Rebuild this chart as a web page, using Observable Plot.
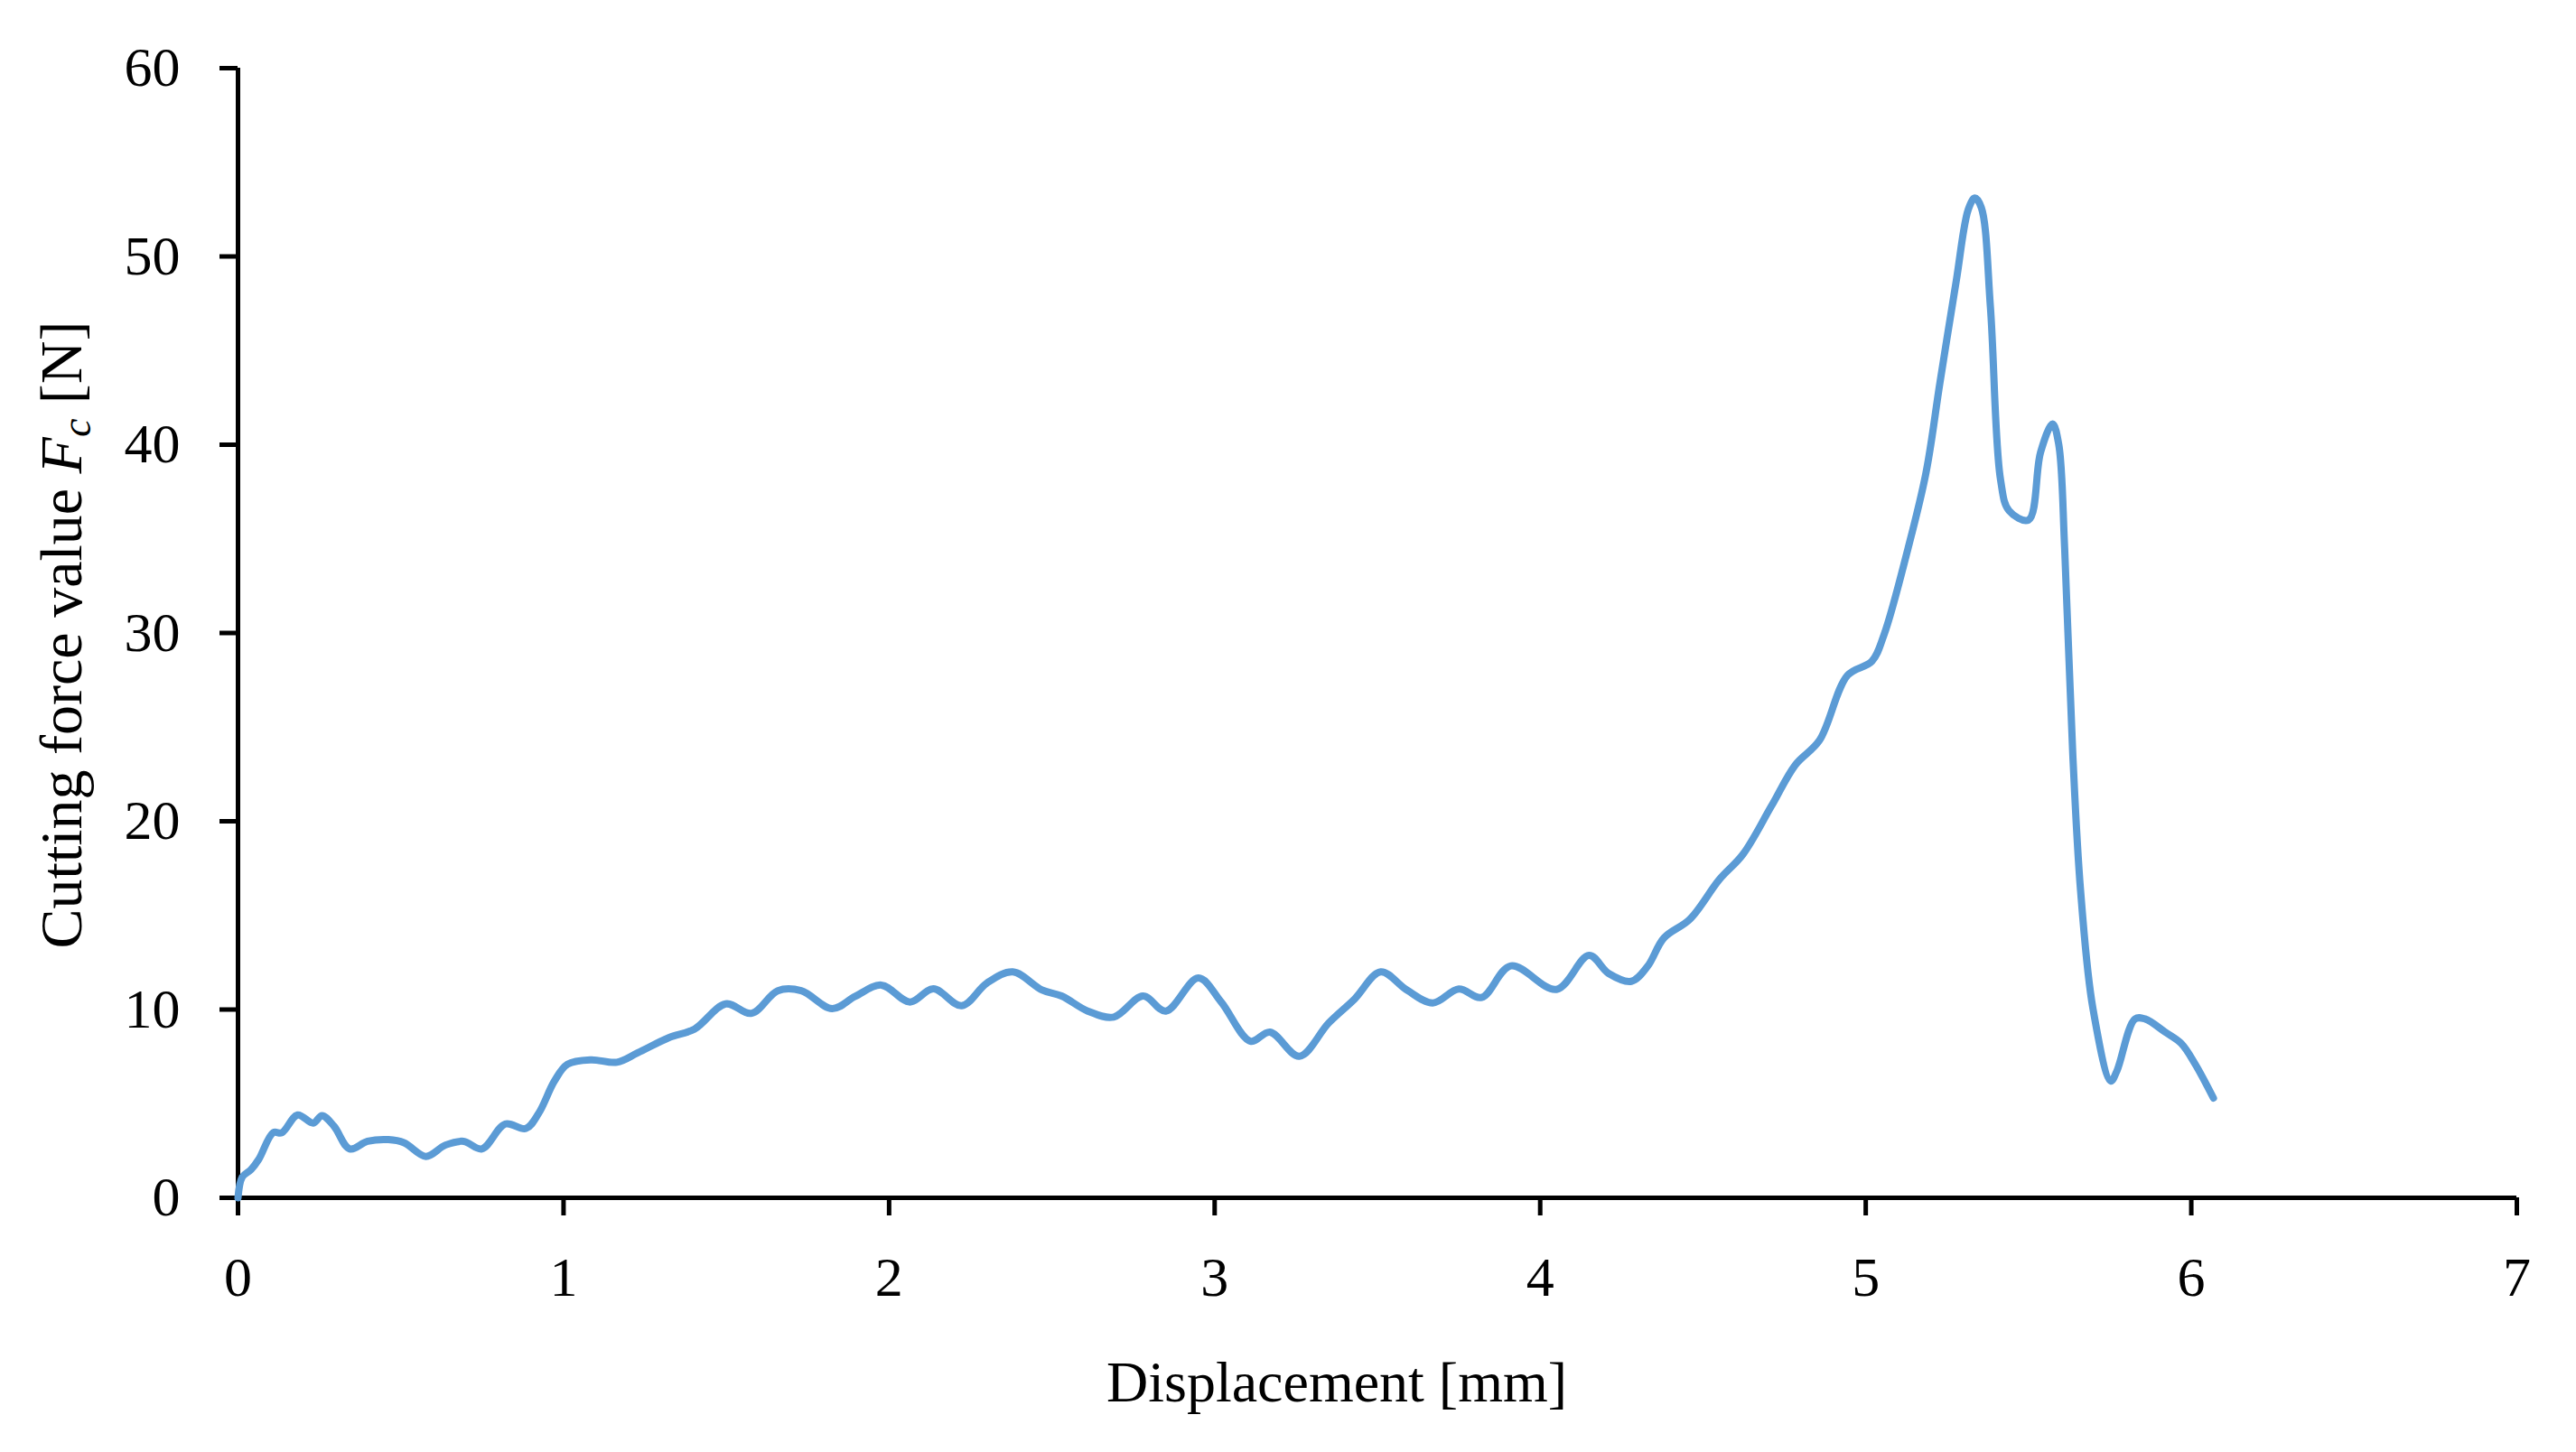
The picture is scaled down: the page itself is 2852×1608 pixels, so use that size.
<!DOCTYPE html>
<html>
<head>
<meta charset="utf-8">
<script src="https://cdn.jsdelivr.net/npm/d3@7"></script>
<script src="https://cdn.jsdelivr.net/npm/@observablehq/plot@0.6"></script>
<style>
  html, body { margin: 0; padding: 0; background: #fff; overflow: hidden; }
</style>
</head>
<body>
<div id="chart"></div>
<script>
// Displacement [mm]
const displacement = [
  0, 0.013, 0.04, 0.064, 0.108, 0.135, 0.183, 0.231, 0.258, 0.295,
  0.343, 0.398, 0.462, 0.51, 0.577, 0.637, 0.693, 0.749, 0.821, 0.884,
  0.924, 0.972, 1.012, 1.084, 1.164, 1.228, 1.323, 1.402, 1.498, 1.578,
  1.658, 1.73, 1.825, 1.896, 1.976, 2.064, 2.136, 2.223, 2.30, 2.38,
  2.47, 2.53, 2.61, 2.69, 2.78, 2.85, 2.95, 3.02, 3.11, 3.17,
  3.26, 3.35, 3.43, 3.51, 3.59, 3.67, 3.75, 3.82, 3.91, 4.05,
  4.15, 4.21, 4.28, 4.33, 4.38, 4.46, 4.55, 4.623, 4.71, 4.784,
  4.858, 4.944, 5.019, 5.056, 5.13, 5.185, 5.228, 5.278, 5.315, 5.335,
  5.355, 5.383, 5.414, 5.44, 5.5, 5.537, 5.574, 5.593, 5.611, 5.636,
  5.66, 5.698, 5.753, 5.772, 5.827, 5.858, 5.92, 5.969, 6.012, 6.068
];
// Cutting force value Fc [N]
const force = [
  0, 1.1, 1.5, 2.05, 3.46, 3.46, 4.4, 3.97, 4.37, 3.8,
  2.6, 3.0, 3.09, 2.93, 2.2, 2.8, 3.0, 2.6, 3.92, 3.68,
  4.5, 6.2, 7.09, 7.33, 7.2, 7.7, 8.5, 8.96, 10.3, 9.8,
  11.0, 11.0, 10.05, 10.7, 11.3, 10.4, 11.1, 10.2, 11.4, 12.0,
  11.04, 10.72, 9.92, 9.6, 10.72, 9.92, 11.68, 10.4, 8.32, 8.8,
  7.52, 9.28, 10.56, 12.0, 11.04, 10.35, 11.09, 10.64, 12.32, 11.07,
  12.88, 11.92, 11.5, 12.3, 13.8, 14.8, 16.9, 18.25, 20.8, 23.0,
  24.3, 27.75, 28.5, 29.9, 34.5, 38.5, 43.3, 48.7, 52.5, 53.1,
  52.6, 47.3, 38.15, 36.5, 36.0, 39.6, 41.1, 40.0, 34.5, 23.55,
  16.3, 10.04, 6.2, 6.76, 9.5, 9.5, 8.8, 8.2, 7.1, 5.3
];
const xTicks = [0, 1, 2, 3, 4, 5, 6, 7];
const yTicks = [0, 10, 20, 30, 40, 50, 60];
const xLabel = "Displacement [mm]";
const yLabelText = "Cutting force value ";
const yLabelVar = "F";
const yLabelSub = "c";
const yLabelUnit = " [N]";

const data = displacement.map((d, i) => ({x: d, y: force[i]}));

const FONT = "'Liberation Serif', 'Times New Roman', serif";

const chart = Plot.plot({
  width: 2852,
  height: 1608,
  marginLeft: 263,
  marginRight: 66,
  marginTop: 75,
  marginBottom: 282,
  style: {fontFamily: FONT, color: "#000", background: "#fff", overflow: "visible"},
  x: {domain: [0, 7], label: null},
  y: {domain: [0, 60], label: null},
  marks: [
    Plot.ruleY([0], {stroke: "#000", strokeWidth: 5}),
    Plot.ruleX([0], {stroke: "#000", strokeWidth: 5}),
    Plot.axisX({ticks: xTicks, tickSize: 20, tickPadding: 44, strokeWidth: 5, fontSize: 62, label: null, tickFormat: d => String(d)}),
    Plot.axisY({ticks: yTicks, tickSize: 20, tickPadding: 44, strokeWidth: 5, fontSize: 62, label: null, tickFormat: d => String(d)}),
    Plot.line(data, {x: "x", y: "y", stroke: "#5B9BD5", strokeWidth: 8, curve: "catmull-rom", strokeLinejoin: "round", strokeLinecap: "round"})
  ]
});

document.getElementById("chart").appendChild(chart);

const svg = d3.select(chart);
svg.append("text")
  .attr("x", 1480).attr("y", 1552)
  .attr("text-anchor", "middle")
  .attr("font-family", FONT)
  .attr("font-size", 64)
  .attr("fill", "#000")
  .text(xLabel);

const yl = svg.append("text")
  .attr("transform", "translate(90,703) rotate(-90)")
  .attr("text-anchor", "middle")
  .attr("font-family", FONT)
  .attr("font-size", 66)
  .attr("fill", "#000");
yl.append("tspan").text(yLabelText);
yl.append("tspan").attr("font-style", "italic").text(yLabelVar);
yl.append("tspan").attr("font-style", "italic").attr("font-size", 46).attr("dy", 10).text(yLabelSub);
yl.append("tspan").attr("dy", -10).text(yLabelUnit);
</script>
</body>
</html>
